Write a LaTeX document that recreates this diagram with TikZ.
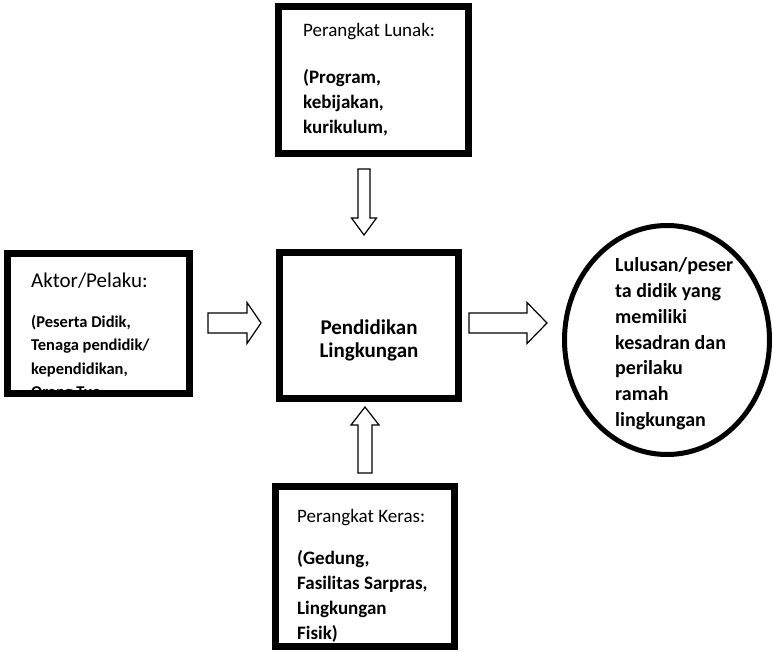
\documentclass[tikz,border=0pt]{standalone}
\usepackage{fontspec}
\setmainfont{Carlito}
\usetikzlibrary{positioning, calc, shapes.geometric}

\tikzset{
	kotak/.style={draw=black, line width=7pt, rectangle, inner sep=0pt, outer sep=0pt},
	lonjong/.style={draw=black, line width=5pt, ellipse, inner sep=0pt, outer sep=0pt},
	judul/.style={anchor=base west, inner sep=0pt, font=\fontsize{19}{23}\selectfont},
	isi/.style={anchor=base west, inner sep=0pt, font=\fontsize{19}{23}\selectfont\bfseries},
	panah/.style={draw=black, line width=1.2pt, fill=white, line join=miter},
	pics/blokpanah/.style n args={4}{code={
		\draw[panah] (0,-#3/2) -- (#1-#2,-#3/2) -- (#1-#2,-#4/2) -- (#1,0) -- (#1-#2,#4/2) -- (#1-#2,#3/2) -- (0,#3/2) -- cycle;
	}}
}

\begin{document}
\begin{tikzpicture}[x=1pt, y=-1pt]
	\useasboundingbox[fill=white] (0,0) rectangle (773,652);

	% kotak-kotak
	\node[kotak, minimum width=190pt, minimum height=147pt] (lunak) at (373.5,80) {};
	\node[kotak, minimum width=182pt, minimum height=140pt] (aktor) at (98.5,323.5) {};
	\node[kotak, minimum width=179pt, minimum height=146pt] (pusat) at (369,325.5) {};
	\node[kotak, minimum width=179pt, minimum height=160pt] (keras) at (365,566.5) {};
	\node[lonjong, minimum width=205pt, minimum height=229pt] (lulusan) at (667,340) {};

	% teks perangkat lunak
	\begin{scope}
		\clip ([shift={(3.5pt,3.5pt)}]lunak.south west) rectangle ([shift={(-3.5pt,-3.5pt)}]lunak.north east);
		\node[judul] (lunak-judul) at (303,37) {Perangkat Lunak:};
		\foreach \baris [count=\i] in {{(Program,}, {kebijakan,}, {kurikulum,}}
			\node[isi] (lunak-\i) at (303,{84+25*(\i-1)}) {\baris};
	\end{scope}

	% teks aktor
	\begin{scope}
		\clip ([shift={(3.5pt,3.5pt)}]aktor.south west) rectangle ([shift={(-3.5pt,-3.5pt)}]aktor.north east);
		\node[judul, font=\fontsize{21}{25}\selectfont] (aktor-judul) at (31,287) {Aktor/Pelaku:};
		\foreach \baris [count=\i] in {{(Peserta Didik,}, {Tenaga pendidik/}, {kependidikan,}, {Orang Tua,}}
			\node[isi, font=\fontsize{16.5}{20}\selectfont\bfseries] (aktor-\i) at (31,{327+23.5*(\i-1)}) {\baris};
	\end{scope}

	% teks tengah
	\node[isi, anchor=base, font=\fontsize{21}{25}\selectfont\bfseries] (pusat-1) at (369,334) {Pendidikan};
	\node[isi, anchor=base, font=\fontsize{21}{25}\selectfont\bfseries] (pusat-2) at (369,357) {Lingkungan};

	% teks perangkat keras
	\begin{scope}
		\clip ([shift={(3.5pt,3.5pt)}]keras.south west) rectangle ([shift={(-3.5pt,-3.5pt)}]keras.north east);
		\node[judul] (keras-judul) at (297,522) {Perangkat Keras:};
		\foreach \baris [count=\i] in {{(Gedung,}, {Fasilitas Sarpras,}, {Lingkungan}, {Fisik)}}
			\node[isi] (keras-\i) at (297,{564+25*(\i-1)}) {\baris};
	\end{scope}

	% teks lulusan
	\foreach \baris [count=\i] in {{Lulusan/peser}, {ta didik yang}, {memiliki}, {kesadran dan}, {perilaku}, {ramah}, {lingkungan}}
		\node[isi, font=\fontsize{20}{25}\selectfont\bfseries] (lulusan-\i) at (615,{272+25.7*(\i-1)}) {\baris};

	% panah blok
	\pic[rotate=-90] at (364,169) {blokpanah={66}{17}{12}{25}};
	\pic[rotate=90] at (365,473) {blokpanah={66}{18}{14}{28}};
	\pic at (208,323) {blokpanah={53}{14}{20}{41}};
	\pic at (469,323) {blokpanah={78}{20}{20}{41}};
\end{tikzpicture}
\end{document}
